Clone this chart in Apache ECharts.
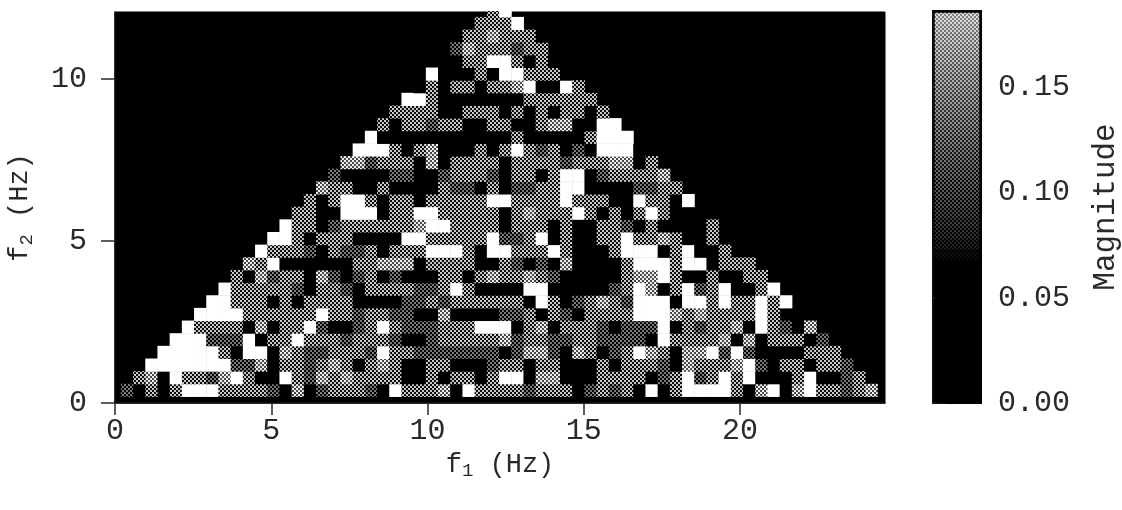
<!DOCTYPE html>
<html><head><meta charset="utf-8">
<style>html,body{margin:0;padding:0;background:#fff}#c{width:1122px;height:510px}</style>
<script src="https://cdn.jsdelivr.net/npm/echarts@6/dist/echarts.min.js"></script>
</head><body><div id="c"></div>
<script>
// Magnitude in hundredths. Each row k (f2 = k * binHz) starts at column k (f1 = k * binHz).
const row01=[8,0,11,0,11,19,19,19,11,11,11,11,8,0,14,0,8,11,11,11,8,0,19,11,11,11,14,0,19,11,11,11,11,8,11,11,11,0,8,11,8,11,0,19,0,11,19,19,19,19,11,0,14,19,0,14,19,11,11,8,11,14];
const row02=[11,14,0,19,11,11,8,14,19,11,0,0,19,11,8,14,11,14,11,11,11,11,0,0,11,0,11,11,0,11,19,19,0,14,14,0,0,0,11,11,11,11,0,8,11,19,8,11,19,11,19,0,0,0,11,19,0,0,8,11];
const row03=[19,19,19,19,19,19,19,8,8,14,0,11,11,8,11,14,11,0,11,14,11,0,0,11,11,0,0,0,8,11,11,0,11,11,0,0,0,11,0,11,11,11,8,0,14,11,11,11,14,19,8,0,11,11,0,11,11,8];
const row04=[19,19,19,19,19,11,0,19,19,0,14,11,8,8,11,11,11,8,19,11,11,8,8,8,8,8,8,8,0,8,14,14,8,0,14,11,0,8,11,19,14,11,0,14,14,19,8,19,8,0,0,0,0,11,11,11];
const row05=[19,19,19,8,8,8,19,0,11,11,19,11,11,11,8,11,11,11,8,0,0,8,11,11,11,11,11,14,8,11,11,8,8,11,11,8,8,8,8,0,19,11,11,11,11,14,0,14,0,11,11,11,0,8];
const row06=[19,11,11,11,11,0,14,0,11,11,19,8,0,0,8,11,19,11,8,8,8,11,11,11,19,19,19,0,11,14,0,11,11,11,8,0,8,8,8,19,0,11,8,11,11,14,0,19,11,8,0,14];
const row07=[19,19,19,19,11,11,11,11,11,11,19,11,11,8,11,11,8,8,0,0,14,0,0,0,0,8,8,11,0,11,8,0,11,11,11,11,19,19,19,14,11,14,11,11,11,11,19,11];
const row08=[19,19,11,11,11,0,11,0,11,11,11,11,0,0,0,0,8,8,11,8,11,11,11,11,11,11,0,19,11,0,8,11,14,11,8,19,19,19,0,19,19,11,19,11,11,19,11,19];
const row09=[19,11,11,11,11,11,8,0,11,11,8,0,11,11,11,11,8,8,11,19,11,0,0,0,0,19,19,0,0,0,0,0,8,11,19,14,0,11,19,8,11,19,0,0,11,19];
const row10=[11,0,14,8,11,11,0,14,8,0,8,11,0,8,0,0,0,11,11,0,11,14,11,11,14,11,8,0,0,0,0,0,11,14,14,19,11,0,0,11,0,0,11,11];
const row11=[14,11,19,0,0,0,0,0,0,11,11,14,14,14,0,11,11,11,11,0,0,11,8,0,8,0,14,0,0,0,0,11,19,19,19,11,19,19,0,11,11,11];
const row12=[19,11,11,11,8,0,11,8,8,11,0,11,11,11,19,19,19,11,0,19,19,11,11,11,19,11,0,0,0,11,19,19,19,0,11,19,0,0,11];
const row13=[19,19,11,0,11,11,11,0,0,0,0,19,19,11,11,11,11,11,19,8,8,11,19,0,11,0,0,11,11,19,11,11,14,11,0,0,11];
const row14=[19,11,11,0,8,11,11,11,11,11,11,14,19,19,11,11,11,11,0,11,11,11,0,11,0,0,11,11,8,0,11,0,0,0,0,11];
const row15=[11,11,0,0,19,19,19,0,11,11,19,19,11,11,11,11,11,0,11,14,11,11,11,19,11,0,11,0,11,19,11,0,0];
const row16=[11,0,11,19,19,11,0,11,11,0,11,11,11,11,11,19,19,11,11,11,11,19,11,11,11,0,0,19,11,11,0,19];
const row17=[14,11,11,0,0,11,0,0,0,0,11,8,8,0,11,0,8,8,11,11,19,19,0,0,0,0,8,8,11,11];
const row18=[8,0,0,0,0,8,8,0,0,8,11,11,11,8,0,11,11,0,11,19,19,0,8,11,11,11,11,14];
const row19=[14,14,8,11,11,11,0,14,0,11,11,11,11,0,11,11,11,11,8,11,11,11,14,14,0,11];
const row20=[19,19,19,11,0,11,14,0,0,0,11,0,11,19,11,8,11,0,8,0,19,19,19,0];
const row21=[19,0,0,0,0,0,0,0,0,0,0,0,11,0,0,0,0,0,11,19,19,19];
const row22=[11,0,11,11,8,11,11,0,0,11,11,0,0,11,14,14,0,0,19,19];
const row23=[11,11,11,11,0,0,11,11,11,0,11,0,11,0,11,11,0,11];
const row24=[19,19,11,0,0,0,0,0,0,0,11,11,11,11,11,11];
const row25=[0,11,0,11,11,0,11,11,14,19,0,0,19,11];
const row26=[19,0,0,0,11,0,19,19,11,11,11,0];
const row27=[0,0,11,11,19,19,11,0,11,0];
const row28=[8,14,11,11,11,8,11,11];
const row29=[11,11,14,11,11,11,0];
const row30=[11,11,11,19];
const row31=[11,19];
const magnitudeRows=[row01,row02,row03,row04,row05,row06,row07,row08,row09,row10,row11,row12,row13,row14,row15,row16,row17,row18,row19,row20,row21,row22,row23,row24,row25,row26,row27,row28,row29,row30,row31];
const colorbarValues=[0,.005,.01,.015,.02,.025,.03,.035,.04,.045,.05,.055,.06,.065,.07,.075,.08,.085,.09,.095,.1,.105,.11,.115,.12,.125,.13,.135,.14,.145,.15,.155,.16,.165,.17,.175,.18,.185];
const f1Ticks=[0,5,10,15,20];
const f2Ticks=[0,5,10];
const magTicks=[0,.05,.1,.15];
const binHz=0.390625;

const FONT='Liberation Mono', INK='#2a2a2a';
function tile(fg,bg){
  const c=document.createElement('canvas');c.width=c.height=4;
  const g=c.getContext('2d');g.fillStyle=bg;g.fillRect(0,0,4,4);g.fillStyle=fg;
  g.fillRect(0,0,2,2);g.fillRect(2,2,2,2);return c;
}
const gray=n=>{n=Math.round(Math.min(255,n));return `rgb(${n},${n},${n})`;};
const fills={
  0:'#000',
  8:{image:tile('#7a7a7a','#000000'),repeat:'repeat'},
  11:{image:tile('#c8c8c8','#0c0c0c'),repeat:'repeat'},
  14:{image:tile('#f0f0f0','#4a4a4a'),repeat:'repeat'},
  19:'#fff'
};
function barFill(v){
  if(v<0.07)return '#000';
  const t=(v-0.07)/(0.186-0.07);
  return {image:tile(gray(15+205*Math.pow(t,0.75)),gray(130*t*t)),repeat:'repeat'};
}
const colLabels=[],rowLabels=[];
for(let j=1;j<=62;j++)colLabels.push((j*binHz).toFixed(2));
for(let i=1;i<=31;i++)rowLabels.push((i*binHz).toFixed(2));
const cells=[];
magnitudeRows.forEach((r,ri)=>r.forEach((v,k)=>{
  const col=ri+k;
  cells.push({value:[col,ri,v/100],itemStyle:{color:fills[v]}});
}));
const barCells=colorbarValues.map((v,i)=>({value:[0,i,v],itemStyle:{color:barFill(v)}}));
const sub=(a,b,c)=>`{a|${a}}{b|${b}}{a|${c}}`;
const richFor=s=>({a:{fontFamily:FONT,fontSize:s,color:INK},b:{fontFamily:FONT,fontSize:Math.round(s*.72),color:INK,verticalAlign:'bottom',padding:[14,0,0,0]}});
const tick=(len)=>({show:true,length:len,lineStyle:{color:INK,width:1.5}});
const line={show:true,lineStyle:{color:'#111',width:1.5}};
const lab=(m)=>({fontFamily:FONT,fontSize:30,color:INK,margin:m});
const G={outerBoundsMode:'none'};

const chart=echarts.init(document.getElementById('c'),null,{renderer:'canvas'});
chart.setOption({
  animation:false,backgroundColor:'#fff',
  grid:[
    Object.assign({left:115,top:12,width:770,height:391,show:true,backgroundColor:'#000',borderColor:'#000',borderWidth:1},G),
    Object.assign({left:121.1,top:4.5,width:756.4,height:392.2},G),
    Object.assign({left:933,top:11,width:48,height:392,show:true,backgroundColor:'#000',borderColor:'#000',borderWidth:2},G),
    Object.assign({left:935,top:13,width:44,height:390},G)
  ],
  xAxis:[
    {type:'value',gridIndex:0,min:0,max:24.64,interval:5,splitLine:{show:false},axisLine:line,axisTick:Object.assign(tick(12),{customValues:f1Ticks}),axisLabel:Object.assign(lab(13),{customValues:f1Ticks}),
     name:sub('f','1',' (Hz)'),nameLocation:'middle',nameGap:44,nameTextStyle:{rich:richFor(27)}},
    {type:'category',gridIndex:1,data:colLabels,show:false},
    {type:'value',gridIndex:2,min:0,max:1,show:false},
    {type:'category',gridIndex:3,data:['m'],show:false}
  ],
  yAxis:[
    {type:'value',gridIndex:0,min:0,max:12.07,interval:5,splitLine:{show:false},axisLine:line,axisTick:Object.assign(tick(14),{customValues:f2Ticks}),axisLabel:Object.assign(lab(28),{customValues:f2Ticks}),
     name:sub('f','2',' (Hz)'),nameLocation:'middle',nameGap:79,nameRotate:90,nameTextStyle:{rich:richFor(27)}},
    {type:'category',gridIndex:1,data:rowLabels,show:false},
    {type:'value',gridIndex:2,position:'right',min:0,max:0.186,interval:0.05,splitLine:{show:false},axisLine:line,axisTick:Object.assign(tick(13),{customValues:magTicks}),
     axisLabel:Object.assign(lab(17),{customValues:magTicks,formatter:v=>v.toFixed(2)}),
     name:'Magnitude',nameLocation:'middle',nameGap:109,nameRotate:90,nameTextStyle:{fontFamily:FONT,fontSize:31,color:INK}},
    {type:'category',gridIndex:3,data:colorbarValues.map(String),show:false}
  ],
  series:[
    {type:'heatmap',xAxisIndex:1,yAxisIndex:1,data:cells,progressive:0,emphasis:{disabled:true},z:3},
    {type:'heatmap',xAxisIndex:3,yAxisIndex:3,data:barCells,progressive:0,emphasis:{disabled:true},z:3}
  ],
  graphic:[{type:'rect',z:100,shape:{x:112,y:0,width:776,height:11},style:{fill:'#fff'}}]
});
</script></body></html>
